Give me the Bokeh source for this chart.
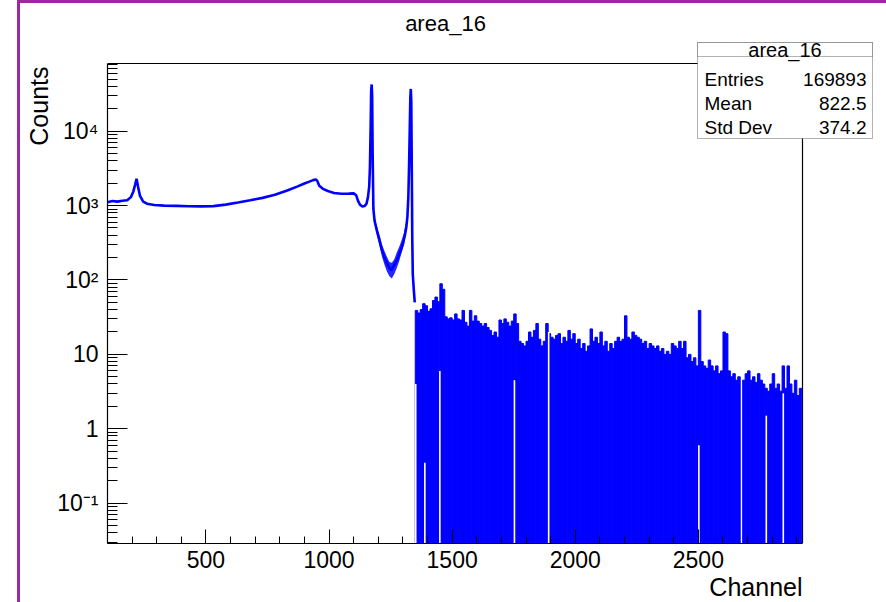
import math
from bokeh.plotting import figure
from bokeh.models import Range1d, FixedTicker, Label, BoxAnnotation, Title, InlineStyleSheet
from bokeh.embed import file_html
from bokeh.resources import INLINE

# ---------------- data ----------------
# smooth part of the spectrum (channel, counts)
low_ch = [100, 120, 140, 160, 180, 195, 205, 212, 218, 224, 232, 245, 260, 290, 330,
          380, 430, 480, 530, 580, 630, 680, 730, 780, 830, 870, 900, 920, 935, 946,
          952, 960, 975, 995, 1020, 1050, 1080, 1100, 1110, 1118, 1126, 1135, 1145,
          1152, 1158, 1163, 1166, 1169, 1171, 1173, 1175, 1177, 1180, 1185, 1195,
          1205, 1215, 1225, 1235, 1245, 1252, 1260, 1270, 1280, 1290, 1300, 1308,
          1314, 1318, 1322, 1325, 1328, 1330, 1332, 1334, 1336, 1338, 1340, 1344, 1348]
low_cnt = [1110, 1150, 1130, 1160, 1180, 1300, 1550, 1900, 2290, 1800, 1350, 1130, 1060,
           1020, 1000, 990, 980, 975, 985, 1030, 1100, 1180, 1270, 1400, 1600, 1800, 1980,
           2100, 2200, 2250, 2150, 1850, 1680, 1570, 1480, 1440, 1450, 1460, 1380, 1150,
           1020, 975, 990, 1060, 1300, 1800, 3300, 12000, 35000, 42500, 30000, 5000, 900,
           620, 450, 340, 250, 200, 170, 145, 135, 150, 170, 200, 245, 310, 400, 520, 700,
           1300, 3500, 12000, 28000, 37000, 25000, 3000, 350, 120, 75, 50]

# spread of the counts in the valley between the two peaks
valley_ch = [1185, 1195, 1205, 1215, 1225, 1235, 1245, 1255, 1265, 1275, 1285, 1295, 1305, 1312]
valley_lo = [560, 390, 285, 205, 160, 130, 112, 105, 120, 145, 180, 235, 300, 420]
valley_hi = [690, 520, 400, 300, 245, 205, 175, 170, 190, 235, 280, 345, 440, 600]

# noisy high-channel part: 10-channel bins, top of the spikes (0 = empty)
hi_start = 1350
hi_width = 10
hi_top = [39, 36, 40, 48, 45, 38, 41, 53, 59, 51,
          89, 75, 32, 30, 31, 29, 35, 30, 29, 39,
          27, 24, 39, 28, 33, 28, 26, 24, 26, 23,
          21, 18, 20, 17, 29, 26, 30, 27, 24, 28,
          35, 26, 15, 14, 13, 15, 20, 17, 21, 26,
          16, 13, 15, 26, 19, 17, 16, 18, 19, 14,
          17, 15, 21, 16, 19, 14, 16, 12, 14, 11,
          13, 22, 15, 17, 14, 20, 13, 15, 11, 14,
          12, 15, 17, 15, 16, 33, 17, 16, 20, 18,
          17, 16, 14, 15, 12, 14, 13, 12, 13, 11,
          12, 10, 11, 10, 14, 13, 12, 15, 12, 15,
          9, 10, 8, 9, 7, 39, 8, 7, 6.5, 8.4,
          7, 6, 7, 5.5, 6, 20, 19, 6, 5, 5.5,
          4.5, 5, 0, 4.5, 5.5, 6, 4.5, 5, 4.2, 5.5,
          4.5, 4, 3.5, 3.2, 4, 5.5, 3.5, 4, 3.2, 7,
          3.5, 7, 4, 3, 4.5, 2.8, 3.5]

# empty columns inside the noisy part (channel, height of the white gap)
gap_ch = [1352, 1389, 1450, 1753, 1892, 2502, 2776, 2845]
gap_top = [4, 0.35, 6, 4.5, 20, 0.6, 1.5, 3]

x_major = [500, 1000, 1500, 2000, 2500]
x_minor = [100, 200, 300, 400, 600, 700, 800, 900, 1100, 1200, 1300, 1400, 1600, 1700,
           1800, 1900, 2100, 2200, 2300, 2400, 2600, 2700, 2800, 2900]
y_major = [0.1, 1, 10, 100, 1000, 10000]
y_labels = ["10\u207b\u00b9", "1", "10", "10\u00b2", "10\u00b3", "10\u2074"]

stat_names = ["Entries", "Mean", "Std Dev"]
stat_values = ["169893", "822.5", "374.2"]
hist_name = "area_16"
x_title = "Channel"
y_title = "Counts"

# ---------------- layout ----------------
W, H = 886, 602
FL, FR, FT, FB = 107, 802, 63, 543          # ROOT frame in pixels
X0, X1 = 100, 2923                          # ROOT frame x range
Y0, Y1 = 0.0287, 81300                      # ROOT frame y range
LY0, LY1 = math.log10(Y0), math.log10(Y1)
CH_PER_PX = (X1 - X0) / (FR - FL)
LOG_PER_PX = (LY1 - LY0) / (FB - FT)

# the bokeh frame is larger than the ROOT frame: it reaches the top and right edges
XR = X1 + (W - FR) * CH_PER_PX
YT = 10 ** (LY1 + FT * LOG_PER_PX)


def dx(px):
    return X0 + (px - FL) * CH_PER_PX


def dy(py):
    return 10 ** (LY1 - (py - FT) * LOG_PER_PX)


y_minor = [m * 10 ** e for e in range(-2, 5) for m in range(2, 10) if Y0 <= m * 10 ** e <= Y1]

p = figure(frame_width=W - FL, frame_height=FB,
           x_range=Range1d(X0, XR), y_range=Range1d(Y0, YT), y_axis_type="log",
           output_backend="svg", toolbar_location=None,
           min_border_left=FL, min_border_right=0,
           min_border_top=0, min_border_bottom=H - FB)
p.xgrid.visible = False
p.ygrid.visible = False
p.outline_line_color = None
p.background_fill_color = "white"
p.border_fill_color = "white"

FONT = "Liberation Sans"
for ax in (p.xaxis[0], p.yaxis[0]):
    ax.axis_line_color = "black"
    ax.axis_line_width = 1.2
    ax.major_tick_line_color = "black"
    ax.minor_tick_line_color = "black"
    ax.major_tick_out = 0
    ax.minor_tick_out = 0
    ax.major_label_text_font = FONT
    ax.major_label_text_font_size = "23px"
    ax.major_label_text_color = "black"

p.xaxis.bounds = (X0, X1)
p.xaxis.ticker = FixedTicker(ticks=x_major, minor_ticks=x_minor)
p.xaxis.major_tick_in = 14
p.xaxis.minor_tick_in = 7
p.xaxis.major_label_standoff = 7

p.yaxis.bounds = (Y0, Y1)
p.yaxis.ticker = FixedTicker(ticks=y_major, minor_ticks=y_minor)
p.yaxis.major_tick_in = 20
p.yaxis.minor_tick_in = 10
p.yaxis.major_label_standoff = 9
p.yaxis.major_label_overrides = {v: t for v, t in zip(y_major, y_labels)}

# axis titles in the side panels
p.add_layout(Title(text=x_title, align="right", offset=W - FR, text_font=FONT,
                   text_font_size="25px", text_font_style="normal", text_color="black",
                   vertical_align="bottom", standoff=0), "below")
p.add_layout(Title(text=y_title, align="right", offset=66, text_font=FONT,
                   text_font_size="25px", text_font_style="normal", text_color="black",
                   standoff=4), "left")

# ROOT frame: top and right sides (left/bottom are the axis lines)
p.line([X0, X1, X1], [Y1, Y1, Y0], line_color="black", line_width=1.2)

# noisy region bars
lefts, rights, tops = [], [], []
for i, v in enumerate(hi_top):
    if v > 0:
        lefts.append(hi_start + i * hi_width)
        rights.append(hi_start + (i + 1) * hi_width)
        tops.append(v)
p.quad(left=lefts, right=rights, bottom=[Y0 / 10] * len(tops), top=tops,
       fill_color="#0000ff", line_color="#0000ff", line_width=1.0)
p.segment(x0=gap_ch, x1=gap_ch, y0=[Y0 / 10] * len(gap_ch), y1=gap_top,
          line_color="white", line_width=1.6)

# smooth region
p.varea(x=valley_ch, y1=valley_lo, y2=valley_hi, fill_color="#0000ff", fill_alpha=0.85)
p.line(low_ch, low_cnt, line_color="#0000ff", line_width=2.6)

# stats box
BL, BR, BT, BB, BS = 697, 872, 42, 138, 56
p.add_layout(BoxAnnotation(left=dx(BL), right=dx(BR), top=dy(BT), bottom=dy(BB),
                           fill_color="white", fill_alpha=1, line_color="black",
                           line_width=1, level="annotation"))
p.add_layout(BoxAnnotation(left=dx(BL), right=dx(BR), top=dy(BT), bottom=dy(BS),
                           fill_color="white", fill_alpha=1, line_color="black",
                           line_width=1, level="annotation"))
# purple window edge along the top
p.add_layout(BoxAnnotation(left=dx(FL - 5), right=dx(W + 5), top=dy(-5), bottom=dy(2.5),
                           fill_color="#9c27a0", fill_alpha=1, line_alpha=0, level="overlay"))


def lab(px, py, text, size, align="left"):
    p.add_layout(Label(x=dx(px), y=dy(py), text=text, text_font=FONT,
                       text_font_size=size, text_align=align, text_baseline="middle",
                       text_color="black", level="overlay"))


lab((BL + BR) / 2, 49, hist_name, "20px", "center")
for k, (nm, vl) in enumerate(zip(stat_names, stat_values)):
    lab(704, 79 + 24 * k, nm, "19px", "left")
    lab(866, 79 + 24 * k, vl, "19px", "right")
lab(445, 23, hist_name, "22px", "center")

css = """
:host { position: relative; }
:host::before { content: ""; position: absolute; left: 17px; top: 0px; width: 2.5px;
  height: 602px; background: #9c27a0; pointer-events: none; z-index: 5; }
:host::after { content: ""; position: absolute; left: 17px; top: 0px; width: 869px;
  height: 2.5px; background: #9c27a0; pointer-events: none; z-index: 5; }
"""
p.stylesheets = [InlineStyleSheet(css=css)]

open("out.html", "w").write(file_html(p, INLINE))
